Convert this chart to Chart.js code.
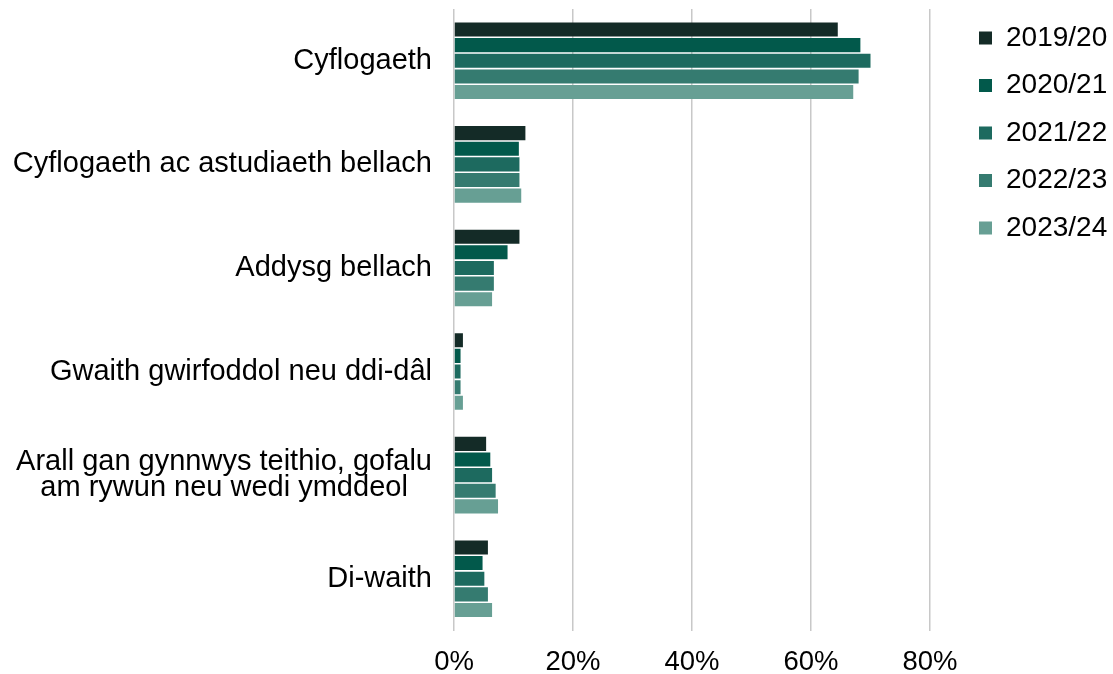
<!DOCTYPE html>
<html>
<head>
<meta charset="utf-8">
<script src="https://cdn.jsdelivr.net/npm/chart.js@4"></script>
<style>
  html, body { margin: 0; padding: 0; background: #fff; }
  #wrap { width: 1113px; height: 674px; }
</style>
</head>
<body>
<div id="wrap"><canvas id="destinationsChart"></canvas></div>
<script>
// trailing spaces on the 2nd line keep the wrapped label roughly centred
const categories = [
    'Cyflogaeth',
    'Cyflogaeth ac astudiaeth bellach',
    'Addysg bellach',
    'Gwaith gwirfoddol neu ddi-dâl',
    ['Arall gan gynnwys teithio, gofalu', 'am rywun neu wedi ymddeol   '],
    'Di-waith'
];
const years = ['2019/20', '2020/21', '2021/22', '2022/23', '2023/24'];
const values2019 = [64.5, 12.0, 11.0, 1.5, 5.4, 5.7];
const values2020 = [68.3, 10.9, 9.0, 1.1, 6.1, 4.8];
const values2021 = [70.0, 11.0, 6.7, 1.1, 6.4, 5.1];
const values2022 = [68.0, 11.0, 6.7, 1.1, 7.0, 5.7];
const values2023 = [67.1, 11.3, 6.4, 1.5, 7.4, 6.4];
const xTicks = [0, 20, 40, 60, 80];
const colours = ['#142b27', '#02594b', '#1d6a5f', '#357b70', '#679f94'];

const seriesValues = [values2019, values2020, values2021, values2022, values2023];

Chart.defaults.font.family = '"Liberation Sans", Arial, sans-serif';
Chart.defaults.color = '#000';

// nudge the legend away from the plot, like the original
const legendShift = {
    id: 'legendShift',
    afterLayout(chart) {
        const lg = chart.legend;
        lg.left += 29.5;
        lg.right += 29.5;
        lg.top -= 4.5;
        lg.bottom -= 4.5;
    }
};

new Chart(document.querySelector('#destinationsChart'), {
    type: 'bar',
    data: {
        labels: categories,
        datasets: years.map((year, i) => ({
            label: year,
            data: seriesValues[i],
            backgroundColor: colours[i],
            borderWidth: 0,
            barPercentage: 0.9,
            categoryPercentage: 0.755
        }))
    },
    options: {
        indexAxis: 'y',
        responsive: true,
        maintainAspectRatio: false,
        animation: false,
        layout: { padding: { top: 9, right: 0, left: 0, bottom: 0 } },
        scales: {
            x: {
                min: 0,
                max: 80,
                afterBuildTicks: axis => { axis.ticks = xTicks.map(v => ({ value: v })); },
                afterFit: axis => {
                    axis.paddingRight = 183;
                    axis.height = 43.5;
                },
                grid: { color: '#c8c8c8', lineWidth: 1.5, drawTicks: false },
                border: { display: false },
                ticks: {
                    font: { size: 27.5 },
                    padding: 15,
                    callback: v => v + '%'
                }
            },
            y: {
                afterFit: axis => {
                    axis.width = 454;
                    axis.paddingTop = 0;
                    axis.paddingBottom = 0;
                },
                grid: { display: false, drawTicks: false },
                border: { display: false },
                ticks: { font: { size: 29, lineHeight: 0.92 }, padding: 22 }
            }
        },
        plugins: {
            legend: {
                position: 'right',
                align: 'start',
                labels: {
                    font: { size: 28 },
                    boxWidth: 13,
                    boxHeight: 13,
                    padding: 19.5
                }
            },
            tooltip: { enabled: false }
        }
    },
    plugins: [legendShift]
});
</script>
</body>
</html>
